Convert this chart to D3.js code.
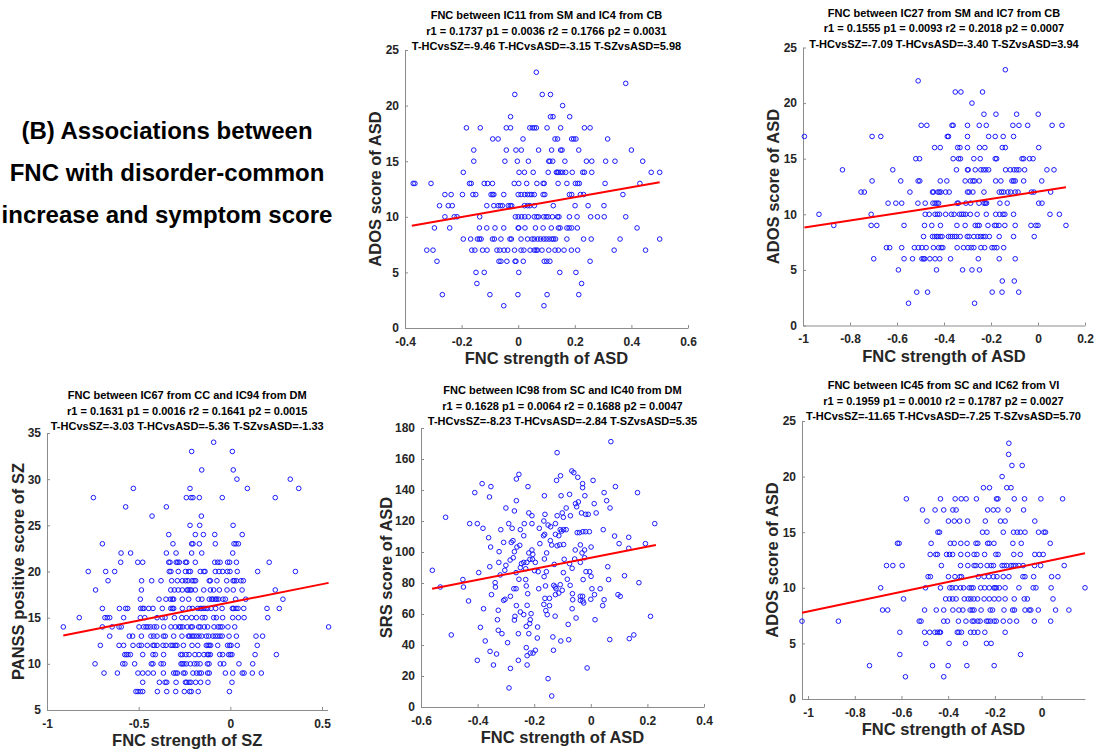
<!DOCTYPE html>
<html><head><meta charset="utf-8">
<script src="https://cdn.jsdelivr.net/npm/d3@7"></script>
<style>
body{margin:0;background:#fff}
svg{display:block}
text{font-family:"Liberation Sans",Arial,Helvetica,sans-serif}
</style>
</head><body>
<svg id="chart" width="1096" height="754"></svg>
<script>
// ---------------- DATA ----------------
// Panel 1: ADOS score (integer) -> FNC strength values
const p1Rows = [
 [23,[0.064]],
 [22,[0.38]],
 [21,[-0.012,0.085,0.114]],
 [20,[0.157]],
 [19,[-0.027,0.114,0.123,0.182]],
 [18,[-0.183,-0.134,-0.042,-0.027,0.041,0.050,0.057,0.064,0.102,0.150,0.234,0.254]],
 [17,[-0.090,-0.071,0.017,0.130,0.139,0.189,0.196,0.204,0.316]],
 [16,[-0.157,-0.042,-0.008,0.011,0.072,0.118,0.150,0.155,0.214,0.40]],
 [15,[-0.157,-0.047,-0.003,0.036,0.108,0.112,0.122,0.165,0.241,0.260,0.309,0.342,0.44]],
 [14,[-0.194,0.003,0.022,0.053,0.106,0.135,0.138,0.142,0.149,0.157,0.168,0.191,0.228,0.234,0.260,0.47,0.50]],
 [13,[-0.371,-0.365,-0.308,-0.172,-0.166,-0.120,-0.108,-0.091,-0.014,0.002,0.030,0.066,0.088,0.092,0.141,0.172,0.202,0.210,0.216,0.307,0.43]],
 [12,[-0.259,-0.237,-0.197,-0.160,-0.150,-0.096,-0.090,-0.086,-0.051,0.000,0.010,0.023,0.033,0.041,0.048,0.057,0.088,0.094,0.181,0.189,0.220,0.231,0.37]],
 [11,[-0.278,-0.247,-0.233,-0.111,-0.086,-0.071,-0.063,-0.056,-0.035,-0.028,-0.023,0.022,0.033,0.041,0.057,0.124,0.201,0.247,0.303]],
 [10,[-0.259,-0.226,-0.216,-0.136,-0.010,0.000,0.012,0.023,0.036,0.057,0.066,0.072,0.090,0.099,0.106,0.121,0.139,0.144,0.181,0.208,0.256,0.280,0.304,0.38]],
 [9,[-0.296,-0.242,-0.137,-0.111,-0.082,-0.051,0.000,0.002,0.024,0.061,0.088,0.117,0.142,0.148,0.172,0.180,0.189,0.209,0.42]],
 [8,[-0.194,-0.168,-0.144,-0.137,-0.131,-0.091,-0.084,-0.061,-0.029,-0.024,0.010,0.033,0.049,0.057,0.069,0.079,0.090,0.099,0.109,0.119,0.125,0.132,0.172,0.231,0.258,0.36,0.50]],
 [7,[-0.323,-0.301,-0.164,-0.153,-0.126,-0.110,-0.075,-0.065,-0.050,-0.037,-0.013,0.010,0.020,0.042,0.057,0.063,0.068,0.084,0.108,0.130,0.142,0.162,0.188,0.210,0.339,0.45]],
 [6,[-0.287,-0.068,-0.061,-0.040,-0.011,-0.008,0.018,0.092,0.101,0.112,0.254]],
 [5,[-0.149,-0.120,0.002,0.147,0.204]],
 [4,[-0.146,0.224]],
 [3,[-0.268,-0.100,-0.001,0.102,0.214]],
 [2,[-0.051,0.091]]
];
const p1Fit = [[-0.376,9.19],[0.50,13.1]];

// Panel 2
const p2Rows = [
 [23,[-0.139]],
 [22,[-0.510]],
 [21,[-0.352,-0.328,-0.236]],
 [20,[-0.281]],
 [19,[-0.230,-0.179,-0.091,0.001]],
 [18,[-0.497,-0.473,-0.366,-0.361,-0.300,-0.250,-0.220,-0.107,-0.081,-0.044,0.060,0.102]],
 [17,[-0.994,-0.706,-0.669,-0.386,-0.381,-0.300,-0.210,-0.182,-0.148,-0.104]],
 [16,[-0.440,-0.416,-0.342,-0.332,-0.300,-0.249,-0.226,-0.152,-0.139,0.003]],
 [15,[-0.520,-0.504,-0.361,-0.338,-0.330,-0.273,-0.246,-0.182,-0.176,-0.068,-0.061,-0.036,-0.021]],
 [14,[-0.832,-0.618,-0.347,-0.300,-0.297,-0.267,-0.243,-0.232,-0.222,-0.210,-0.138,-0.118,-0.102,-0.091,-0.081,-0.057,0.038,0.068]],
 [13,[-0.706,-0.584,-0.510,-0.503,-0.416,-0.388,-0.310,-0.288,-0.277,-0.270,-0.250,-0.180,-0.158,-0.111,-0.104,-0.097,-0.061,0.016]],
 [12,[-0.753,-0.739,-0.545,-0.449,-0.445,-0.426,-0.420,-0.413,-0.393,-0.378,-0.300,-0.293,-0.277,-0.230,-0.165,-0.155,-0.146,-0.128,-0.116,-0.097,-0.085,-0.028,-0.017,0.054]],
 [11,[-0.638,-0.605,-0.580,-0.511,-0.480,-0.447,-0.438,-0.430,-0.423,-0.344,-0.339,-0.307,-0.287,-0.251,-0.230,-0.224,-0.219,-0.162,-0.131,0.003,0.017]],
 [10,[-0.932,-0.710,-0.480,-0.463,-0.438,-0.428,-0.419,-0.393,-0.369,-0.357,-0.334,-0.325,-0.317,-0.308,-0.288,-0.259,-0.220,-0.180,-0.163,-0.149,-0.141,-0.104,0.051,0.091]],
 [9,[-0.869,-0.710,-0.686,-0.570,-0.483,-0.452,-0.415,-0.345,-0.310,-0.267,-0.257,-0.250,-0.213,-0.185,-0.178,-0.166,-0.141,-0.097,-0.030,-0.009,0.000,0.119]],
 [8,[-0.487,-0.449,-0.440,-0.432,-0.426,-0.416,-0.408,-0.381,-0.372,-0.364,-0.355,-0.347,-0.331,-0.301,-0.293,-0.273,-0.256,-0.244,-0.233,-0.224,-0.207,-0.165,-0.104,-0.016]],
 [7,[-0.645,-0.631,-0.580,-0.526,-0.509,-0.494,-0.476,-0.445,-0.423,-0.412,-0.405,-0.344,-0.317,-0.298,-0.284,-0.273,-0.243,-0.227,-0.196,-0.186,-0.175,-0.146]],
 [6,[-0.699,-0.570,-0.534,-0.494,-0.487,-0.482,-0.460,-0.438,-0.418,-0.372,-0.254,-0.165,-0.097]],
 [5,[-0.594,-0.432,-0.321,-0.281,-0.249]],
 [4,[-0.152,-0.101]],
 [3,[-0.516,-0.470,-0.195,-0.153,-0.082]],
 [2,[-0.551,-0.270]]
];
const p2Fit = [[-0.994,8.82],[0.119,12.43]];

// Panel 3: PANSS positive score -> FNC strength of SZ
const p3Rows = [
 [34,[-0.091]],
 [33,[-0.211,0.011]],
 [31,[-0.156,0.016]],
 [30,[0.036,0.327]],
 [29,[-0.529,-0.220,0.093,0.373]],
 [28,[-0.747,-0.240,-0.215,-0.204,-0.169,-0.044,0.245]],
 [27,[-0.571,-0.349]],
 [26,[-0.427,-0.158]],
 [25,[-0.220,-0.167,0.015]],
 [24,[-0.336,-0.191,-0.147,-0.085,0.065]],
 [23,[-0.698,-0.313,-0.211,-0.204,-0.169,-0.082,0.020,0.031,0.044]],
 [22,[-0.596,-0.544,-0.349,-0.296,-0.211,-0.156,0.013]],
 [21,[-0.598,-0.505,-0.478,-0.336,-0.329,-0.295,-0.287,-0.278,-0.245,-0.238,-0.191,-0.085,-0.069,-0.056,-0.015,-0.004,0.033,0.212]],
 [20,[-0.775,-0.680,-0.631,-0.333,-0.324,-0.284,-0.245,-0.227,-0.218,-0.164,-0.144,-0.138,-0.082,-0.062,-0.042,-0.016,-0.002,0.038,0.149,0.355]],
 [19,[-0.667,-0.484,-0.429,-0.378,-0.320,-0.289,-0.262,-0.244,-0.231,-0.209,-0.198,-0.189,-0.115,-0.109,-0.073,-0.020,0.015,0.022,0.033,0.058,0.071]],
 [18,[-0.735,-0.485,-0.325,-0.305,-0.284,-0.262,-0.236,-0.231,-0.220,-0.213,-0.191,-0.145,-0.109,-0.091,-0.060,-0.018,0.016,0.064,0.245]],
 [17,[-0.491,-0.389,-0.351,-0.327,-0.316,-0.309,-0.262,-0.227,-0.175,-0.155,-0.115,-0.102,-0.095,-0.082,-0.075,-0.065,-0.040,-0.027,0.029,0.084,0.287]],
 [16,[-0.698,-0.605,-0.571,-0.560,-0.489,-0.478,-0.471,-0.445,-0.422,-0.371,-0.325,-0.316,-0.309,-0.262,-0.224,-0.207,-0.178,-0.164,-0.155,-0.144,-0.133,-0.124,-0.105,-0.080,-0.045,0.011,0.018,0.031,0.042,0.073,0.200,0.267]],
 [15,[-0.824,-0.684,-0.671,-0.658,-0.582,-0.491,-0.467,-0.400,-0.371,-0.356,-0.305,-0.265,-0.240,-0.211,-0.185,-0.153,-0.138,-0.091,-0.076,-0.042,0.013,0.044,0.075,0.204]],
 [14,[-0.911,-0.698,-0.645,-0.607,-0.595,-0.498,-0.473,-0.460,-0.449,-0.435,-0.416,-0.402,-0.364,-0.324,-0.300,-0.280,-0.271,-0.260,-0.235,-0.215,-0.207,-0.173,-0.164,-0.142,-0.124,-0.089,-0.067,-0.055,-0.044,-0.013,0.024,0.536]],
 [13,[-0.658,-0.551,-0.533,-0.485,-0.433,-0.418,-0.400,-0.365,-0.355,-0.309,-0.264,-0.229,-0.222,-0.209,-0.198,-0.185,-0.171,-0.156,-0.131,-0.118,-0.095,-0.082,-0.069,-0.056,-0.044,-0.007,0.033,0.140,0.176]],
 [12,[-0.709,-0.607,-0.582,-0.531,-0.498,-0.485,-0.453,-0.422,-0.415,-0.400,-0.367,-0.351,-0.324,-0.313,-0.300,-0.291,-0.256,-0.209,-0.178,-0.131,-0.122,-0.115,-0.107,-0.069,-0.015,-0.004,0.004,0.038,0.147]],
 [11,[-0.576,-0.567,-0.558,-0.545,-0.478,-0.422,-0.409,-0.364,-0.271,-0.262,-0.242,-0.225,-0.193,-0.171,-0.144,-0.125,-0.118,-0.109,-0.058,-0.042,-0.009,0.000,0.009,0.135,0.251]],
 [10,[-0.738,-0.587,-0.575,-0.522,-0.431,-0.422,-0.378,-0.365,-0.269,-0.262,-0.253,-0.240,-0.218,-0.196,-0.182,-0.165,-0.125,-0.116,-0.055,-0.036,0.047,0.122]],
 [9,[-0.689,-0.616,-0.504,-0.478,-0.449,-0.420,-0.365,-0.309,-0.298,-0.289,-0.256,-0.247,-0.204,-0.184,-0.169,-0.158,-0.124,-0.115,-0.027,0.013,0.065,0.075,0.120,0.169]],
 [8,[-0.478,-0.387,-0.356,-0.347,-0.296,-0.245,-0.238,-0.225,-0.215,-0.189,-0.162,-0.122,0.009]],
 [7,[-0.515,-0.504,-0.491,-0.478,-0.398,-0.347,-0.298,-0.251,-0.222,-0.213,-0.175,-0.005]]
];
const p3Fit = [[-0.911,13.06],[0.536,18.77]];

// Panel 4: [FNC strength, SRS score]
const p4Pts = [
 [0.071,171.2],[-0.119,164.1],[-0.067,152.3],[-0.060,151.2],[-0.254,150.1],[-0.107,149.2],[-0.263,147.1],[-0.046,148.2],[-0.121,146.2],[0.008,146.2],
 [-0.029,144.1],[-0.384,144.1],[-0.029,141.5],[-0.353,142.2],[-0.222,142.2],[0.087,142.2],[-0.410,138.3],[0.047,138.3],[0.165,138.3],[-0.358,135.5],
 [-0.164,136.3],[-0.105,136.3],[-0.075,137.2],[-0.021,136.3],[-0.263,133.1],[0.056,133.1],[-0.044,132.3],[-0.054,131.2],[0.012,131.2],[-0.300,128.4],
 [-0.087,128.4],[-0.050,129.2],[0.068,128.4],[-0.270,126.5],[-0.219,125.2],[-0.208,123.4],[-0.162,124.3],[-0.119,123.4],[-0.101,125.2],[-0.072,123.4],
 [-0.033,125.2],[-0.018,124.3],[-0.009,124.3],[0.019,125.2],[-0.097,122.4],[-0.428,118.3],[-0.401,118.3],[-0.290,118.3],[-0.235,118.3],[-0.208,118.3],
 [-0.166,120.0],[-0.151,117.4],[-0.125,118.3],[0.226,118.3],[-0.513,122.4],[-0.381,115.3],[-0.318,114.4],[-0.278,115.3],[-0.249,114.4],[-0.182,115.3],
 [-0.142,116.3],[-0.108,114.4],[-0.103,113.5],[-0.096,114.4],[-0.087,114.4],[-0.163,111.4],[-0.167,110.5],[-0.048,112.5],[-0.040,112.5],[-0.028,113.1],
 [-0.018,113.1],[-0.005,113.1],[0.044,114.4],[-0.237,110.5],[-0.361,109.2],[-0.113,110.5],[-0.125,111.4],[-0.308,106.2],[-0.281,106.2],[-0.275,107.3],
 [-0.251,104.3],[0.084,110.3],[0.100,105.4],[0.134,109.5],[0.193,105.4],[-0.180,105.4],[-0.143,107.3],[-0.138,104.5],[-0.119,104.0],[-0.110,104.6],
 [-0.096,104.8],[-0.037,104.6],[-0.354,103.2],[-0.261,103.2],[0.001,103.2],[0.134,102.4],[-0.324,100.2],[-0.270,100.2],[-0.219,99.4],[-0.208,101.3],
 [-0.156,99.4],[-0.055,101.3],[-0.022,101.3],[-0.031,99.4],[-0.205,98.5],[-0.022,96.3],[-0.357,90.5],[-0.325,93.3],[-0.300,91.4],[-0.285,94.8],
 [-0.274,96.3],[-0.245,92.5],[-0.237,93.3],[-0.226,93.3],[-0.215,95.3],[-0.206,95.3],[-0.196,93.3],[-0.164,95.5],[-0.129,92.0],[-0.094,95.3],
 [-0.075,92.5],[-0.066,89.5],[-0.057,95.5],[-0.037,93.3],[-0.017,87.3],[-0.004,87.3],[0.060,90.5],[-0.560,88.2],[-0.396,86.7],[-0.199,88.0],
 [-0.186,87.3],[-0.157,87.3],[-0.097,86.7],[-0.264,86.7],[-0.304,88.2],[-0.230,89.2],[-0.249,89.9],[0.119,84.7],[-0.165,84.1],
 [-0.320,85.2],[-0.452,82.2],[-0.450,77.4],[-0.532,77.4],[-0.338,80.2],[-0.337,77.4],[-0.351,72.5],[-0.432,68.4],[-0.379,63.4],[-0.327,62.4],
 [-0.330,56.3],[-0.327,49.5],[-0.390,51.4],[-0.493,46.5],[-0.373,42.6],[-0.314,47.3],[-0.356,35.9],[-0.401,30.1],[-0.333,34.2],[-0.344,27.1],
 [-0.308,68.8],[-0.303,69.5],[-0.284,71.4],[-0.272,76.3],[-0.264,76.3],[-0.254,82.4],[-0.223,73.1],[-0.228,78.1],[-0.230,82.2],[-0.263,65.4],
 [-0.249,61.3],[-0.237,59.6],[-0.268,58.5],[-0.270,56.1],[-0.225,65.6],[-0.211,60.2],[-0.214,56.3],[-0.216,53.8],[-0.228,52.0],[-0.219,47.3],
 [-0.256,47.3],[-0.294,41.5],[-0.188,51.6],[-0.189,44.5],[-0.228,38.3],[-0.225,33.1],[-0.214,34.8],[-0.204,34.8],[-0.196,36.6],[-0.256,30.1],
 [-0.284,24.9],[-0.225,27.1],[-0.289,12.3],[-0.151,18.3],[-0.138,7.1],[-0.134,45.2],[-0.132,36.6],[-0.184,76.3],[-0.160,78.1],[-0.146,70.1],
 [-0.162,70.1],[-0.166,66.2],[-0.146,65.4],[-0.159,62.2],[-0.154,59.6],[-0.131,78.5],[-0.126,77.5],[-0.123,76.3],[-0.125,72.5],[-0.108,78.9],
 [-0.101,75.3],[-0.113,73.5],[-0.126,58.6],[-0.083,82.4],[-0.073,78.5],[-0.065,73.1],[-0.064,69.2],[-0.066,63.4],[-0.052,57.4],[-0.080,53.3],
 [-0.106,42.6],[-0.078,43.4],[-0.037,71.4],[-0.029,71.4],[-0.028,68.4],[-0.025,67.1],[-0.037,68.8],[-0.027,82.2],[0.001,84.3],[0.004,76.3],
 [0.000,69.5],[0.013,72.5],[0.033,76.3],[0.047,69.2],[0.042,65.4],[0.015,56.3],[-0.013,25.2],[0.063,82.2],[0.170,80.2],[0.096,72.5],
 [0.104,71.4],[0.211,58.5],[0.067,43.5],[0.136,44.1],[0.152,46.5]
];
const p4Fit = [[-0.561,76.3],[0.230,104.5]];

// Panel 5
const p5Rows = [
 [23,[-0.140]],
 [22,[-0.141]],
 [21,[-0.127,-0.083]],
 [20,[-0.169]],
 [19,[-0.249,-0.223,-0.149,-0.131]],
 [18,[-0.579,-0.433,-0.370,-0.344,-0.323,-0.279,-0.193,-0.187,-0.117,-0.073,-0.003,0.090]],
 [17,[-0.510,-0.456,-0.419,-0.380,-0.366,-0.231,-0.207,-0.187,-0.143,-0.077]],
 [16,[-0.491,-0.399,-0.374,-0.351,-0.317,-0.241,-0.176,-0.156,-0.029]],
 [15,[-0.444,-0.437,-0.253,-0.234,-0.164,-0.120,-0.104,-0.091,-0.071,-0.013,0.010,0.017]],
 [14,[-0.617,-0.610,-0.473,-0.391,-0.374,-0.346,-0.319,-0.281,-0.273,-0.231,-0.224,-0.204,-0.123,-0.087,0.037]],
 [13,[-0.477,-0.453,-0.446,-0.407,-0.394,-0.381,-0.346,-0.317,-0.289,-0.277,-0.244,-0.196,-0.186,-0.119,-0.091,-0.029,-0.010,0.007]],
 [12,[-0.664,-0.637,-0.597,-0.429,-0.347,-0.316,-0.289,-0.281,-0.261,-0.233,-0.216,-0.206,-0.169,-0.160,-0.149,-0.131,-0.121,-0.111,-0.097,-0.079,-0.030,-0.004,0.097]],
 [11,[-0.486,-0.476,-0.399,-0.371,-0.350,-0.343,-0.271,-0.246,-0.226,-0.206,-0.191,-0.164,-0.140,-0.080,-0.071,-0.034,0.043,0.070]],
 [10,[-0.689,-0.497,-0.433,-0.393,-0.383,-0.367,-0.347,-0.334,-0.310,-0.301,-0.293,-0.261,-0.244,-0.224,-0.204,-0.200,-0.194,-0.181,-0.156,-0.097,-0.036,-0.024,0.041,0.186]],
 [9,[-0.591,-0.411,-0.394,-0.381,-0.366,-0.331,-0.314,-0.303,-0.290,-0.274,-0.246,-0.224,-0.203,-0.183,-0.156,-0.117,-0.074,-0.061,0.049]],
 [8,[-0.681,-0.659,-0.501,-0.451,-0.419,-0.380,-0.354,-0.337,-0.306,-0.297,-0.289,-0.259,-0.220,-0.210,-0.161,-0.124,-0.116,-0.071,-0.053,-0.046,-0.014,0.060,0.117]],
 [7,[-1.026,-0.870,-0.524,-0.516,-0.419,-0.403,-0.356,-0.324,-0.297,-0.289,-0.273,-0.263,-0.236,-0.229,-0.219,-0.203,-0.194,-0.164,-0.136,-0.107,-0.031,0.039]],
 [6,[-0.607,-0.501,-0.479,-0.457,-0.446,-0.437,-0.433,-0.361,-0.354,-0.343,-0.304,-0.289,-0.273,-0.243,-0.156]],
 [5,[-0.496,-0.396,-0.326,-0.236,-0.216]],
 [4,[-0.607,-0.090]],
 [3,[-0.737,-0.467,-0.400,-0.320,-0.203]],
 [2,[-0.583,-0.419]]
];
const p5Fit = [[-1.026,7.75],[0.186,13.11]];

// Tick values
const p1XTicks = [-0.4,-0.2,0,0.2,0.4,0.6];
const p1YTicks = [0,5,10,15,20,25];
const p2XTicks = [-1,-0.8,-0.6,-0.4,-0.2,0,0.2];
const p2YTicks = [0,5,10,15,20,25];
const p3XTicks = [-1,-0.5,0,0.5];
const p3YTicks = [5,10,15,20,25,30,35];
const p4XTicks = [-0.6,-0.4,-0.2,0,0.2,0.4];
const p4YTicks = [0,20,40,60,80,100,120,140,160,180];
const p5XTicks = [-1,-0.8,-0.6,-0.4,-0.2,0];
const p5YTicks = [0,5,10,15,20,25];

// Texts
const p1Title = ["FNC between IC11 from SM and IC4 from CB","r1 = 0.1737 p1 = 0.0036 r2 = 0.1766 p2 = 0.0031","T-HCvsSZ=-9.46 T-HCvsASD=-3.15 T-SZvsASD=5.98"];
const p2Title = ["FNC between IC27 from SM and IC7 from CB","r1 = 0.1555 p1 = 0.0093 r2 = 0.2018 p2 = 0.0007","T-HCvsSZ=-7.09 T-HCvsASD=-3.40 T-SZvsASD=3.94"];
const p3Title = ["FNC between IC67 from CC and IC94 from DM","r1 = 0.1631 p1 = 0.0016 r2 = 0.1641 p2 = 0.0015","T-HCvsSZ=-3.03 T-HCvsASD=-5.36 T-SZvsASD=-1.33"];
const p4Title = ["FNC between IC98 from SC and IC40 from DM","r1 = 0.1628 p1 = 0.0064 r2 = 0.1688 p2 = 0.0047","T-HCvsSZ=-8.23 T-HCvsASD=-2.84 T-SZvsASD=5.35"];
const p5Title = ["FNC between IC45 from SC and IC62 from VI","r1 = 0.1959 p1 = 0.0010 r2 = 0.1787 p2 = 0.0027","T-HCvsSZ=-11.65 T-HCvsASD=-7.25 T-SZvsASD=5.70"];
const headingLines = ["(B) Associations between","FNC with disorder-common","increase and symptom score"];

// ---------------- DRAW ----------------
const svg = d3.select("#chart");
const rowsToPts = rows => rows.flatMap(([s, xs]) => xs.map(x => [x, s]));
const fmt = v => String(+v.toFixed(2));

const panels = [
 {pts: rowsToPts(p1Rows), fit: p1Fit, xd:[-0.4,0.6], yd:[0,25], xt:p1XTicks, yt:p1YTicks, title:p1Title,
  xl:"FNC strength of ASD", yl:"ADOS score of ASD", L:405, T:50, W:283, H:278, yOff:30, tOff:-35},
 {pts: rowsToPts(p2Rows), fit: p2Fit, xd:[-1,0.2], yd:[0,25], xt:p2XTicks, yt:p2YTicks, title:p2Title,
  xl:"FNC strength of ASD", yl:"ADOS score of ASD", L:803, T:47.5, W:282, H:278, yOff:30, tOff:-35},
 {pts: rowsToPts(p3Rows), fit: p3Fit, xd:[-1,0.53], yd:[5,35], xt:p3XTicks, yt:p3YTicks, title:p3Title,
  xl:"FNC strength of SZ", yl:"PANSS positive score of SZ", L:47, T:433, W:280.5, H:277, yOff:29, tOff:-38},
 {pts: p4Pts, fit: p4Fit, xd:[-0.6,0.4], yd:[0,180], xt:p4XTicks, yt:p4YTicks, title:p4Title,
  xl:"FNC strength of ASD", yl:"SRS score of ASD", L:421, T:428, W:283, H:279, yOff:35, tOff:-38},
 {pts: rowsToPts(p5Rows), fit: p5Fit, xd:[-1.026,0.186], yd:[0,25], xt:p5XTicks, yt:p5YTicks, title:p5Title,
  xl:"FNC strength of ASD", yl:"ADOS score of ASD", L:802, T:421, W:283, H:278, yOff:30, tOff:-36}
];

const axisColor = "#8c8c8c";
const tickText = "#262626";

panels.forEach(p => {
  const g = svg.append("g").attr("transform", `translate(${p.L},${p.T})`);
  const x = d3.scaleLinear().domain(p.xd).range([0, p.W]);
  const y = d3.scaleLinear().domain(p.yd).range([p.H, 0]);

  const xa = g.append("g").attr("transform", `translate(0,${p.H})`)
    .call(d3.axisBottom(x).tickValues(p.xt).tickFormat(fmt).tickSizeInner(-3).tickSizeOuter(0).tickPadding(9));
  const ya = g.append("g")
    .call(d3.axisLeft(y).tickValues(p.yt).tickFormat(fmt).tickSizeInner(-3).tickSizeOuter(0).tickPadding(6));
  [xa, ya].forEach(a => {
    a.select(".domain").attr("stroke", axisColor).attr("stroke-width", 1);
    a.selectAll(".tick line").attr("stroke", axisColor);
    a.selectAll(".tick text").attr("fill", tickText).attr("font-size", 12).attr("font-weight", "bold")
      .attr("font-family", '"Liberation Sans",Arial,sans-serif');
  });

  g.append("g").selectAll("circle").data(p.pts).join("circle")
    .attr("cx", d => x(d[0])).attr("cy", d => y(d[1])).attr("r", 2.3)
    .attr("fill", "none").attr("stroke", "#1a1aff").attr("stroke-width", 1);

  g.append("line")
    .attr("x1", x(p.fit[0][0])).attr("y1", y(p.fit[0][1]))
    .attr("x2", x(p.fit[1][0])).attr("y2", y(p.fit[1][1]))
    .attr("stroke", "#ff0000").attr("stroke-width", 2);

  const cx = p.W / 2;
  g.append("g").selectAll("text").data(p.title).join("text")
    .attr("x", cx).attr("y", (d, i) => p.tOff + i * 15.5)
    .attr("text-anchor", "middle").attr("dominant-baseline", "central")
    .attr("font-size", 11).attr("font-weight", "bold").attr("fill", "#000").text(d => d);

  g.append("text").attr("x", cx).attr("y", p.H + 30)
    .attr("text-anchor", "middle").attr("dominant-baseline", "central")
    .attr("font-size", 16.5).attr("font-weight", "bold").attr("fill", tickText).text(p.xl);

  g.append("text").attr("transform", `translate(${-p.yOff},${p.H / 2}) rotate(-90)`)
    .attr("text-anchor", "middle").attr("dominant-baseline", "central")
    .attr("font-size", 16.5).attr("font-weight", "bold").attr("fill", tickText).text(p.yl);
});

svg.append("g").selectAll("text").data(headingLines).join("text")
  .attr("x", 167).attr("y", (d, i) => 130 + i * 42)
  .attr("text-anchor", "middle").attr("dominant-baseline", "central")
  .attr("font-size", 24).attr("font-weight", "bold").attr("fill", "#000").text(d => d);
</script>
</body></html>
